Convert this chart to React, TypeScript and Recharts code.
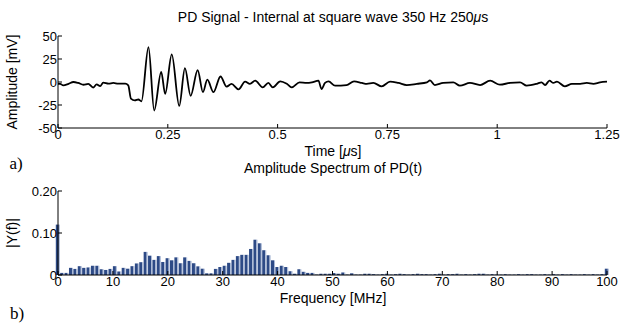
import React from "react";
import { LineChart, Line, BarChart, Bar, XAxis, YAxis } from "recharts";

// time signal (time in us, amplitude in mV)
const SIGNAL_T = [
  0, 0.005, 0.012, 0.024, 0.035, 0.046, 0.058, 0.069, 0.08, 0.088, 0.096, 0.103,
  0.115, 0.126, 0.137, 0.153, 0.16, 0.166, 0.175, 0.183, 0.19, 0.206, 0.219,
  0.235, 0.244, 0.259, 0.276, 0.289, 0.302, 0.318, 0.33, 0.34, 0.354, 0.37,
  0.384, 0.395, 0.411, 0.426, 0.437, 0.449, 0.466, 0.479, 0.489, 0.506, 0.521,
  0.532, 0.55, 0.566, 0.578, 0.593, 0.6, 0.608, 0.616, 0.631, 0.657, 0.674,
  0.692, 0.703, 0.718, 0.737, 0.756, 0.775, 0.794, 0.817, 0.84, 0.847, 0.858,
  0.877, 0.9, 0.915, 0.938, 0.961, 0.984, 1.006, 1.029, 1.052, 1.067, 1.09,
  1.101, 1.109, 1.119, 1.128, 1.136, 1.154, 1.17, 1.189, 1.204, 1.219, 1.234,
  1.25,
];
const SIGNAL_MV = [
  -2, -2, -3.7, -2, 0, -1, -3, -2, -6, -2.5, -4.5, -0.7,
  -1.8, -1, -1.8, -1.8, -3.7, -18, -20, -19, -21, 38, -31,
  11, -13, 30, -26, 15, -15, 13, -11, 2.5, -11, 6,
  -5, -2, -8, 0.4, -2, 1.4, -5.8, -1, -5.8, 0.7, -2,
  -5.8, -0.4, -1, -0.4, 1.4, -7.6, -1, 0.7, -4, -3.3, 0.7,
  -1, -2, -1, -4.7, 0.4, -1, -3.3, -2, -0.4, 1.8, -3.3,
  -1, -0.4, -4, -1, -3.3, 1.4, -2.9, -1, -0.4, -4, -2,
  -0.4, -3.3, 1.4, -1, 0.4, -4.7, -2, -2, -1, -2, -0.4,
  0.4,
];
const TIME_TICKS = [0, 0.25, 0.5, 0.75, 1, 1.25];
const MV_TICKS = [-50, -25, 0, 25, 50];

// amplitude spectrum, one bar every 0.8 MHz from 0 to 100 MHz
const FREQ_STEP = 0.8;
const SPECTRUM = [
  0.12, 0.005, 0.005, 0.017, 0.0145, 0.021, 0.017, 0.018, 0.022, 0.022,
  0.0137, 0.012, 0.0145, 0.021, 0.0084, 0.017, 0.015, 0.021, 0.0275, 0.0305,
  0.055, 0.046, 0.036, 0.045, 0.031, 0.04, 0.035, 0.042, 0.028, 0.042,
  0.0336, 0.028, 0.0206, 0.015, 0.004, 0.004, 0.0145, 0.019, 0.022, 0.029,
  0.036, 0.045, 0.048, 0.048, 0.062, 0.084, 0.0755, 0.059, 0.047, 0.035,
  0.019, 0.022, 0.019, 0.009, 0.003, 0.0137, 0.0076, 0.005, 0.005, 0.001,
  0.003, 0.003, 0.003, 0.0046, 0.003, 0.006, 0.001, 0.004, 0.001, 0.001,
  0.003, 0.003, 0.002, 0.001, 0.002, 0.003, 0.001, 0.002, 0.003, 0.002,
  0.001, 0.002, 0.003, 0.002, 0.002, 0.001, 0.002, 0.003, 0.001, 0.002,
  0.002, 0.003, 0.001, 0.002, 0.001, 0.002, 0.003, 0.003, 0.001, 0.002,
  0.001, 0.001, 0.002, 0.001, 0.001, 0.002, 0.001, 0.002, 0.002, 0.001,
  0.001, 0.002, 0.001, 0.002, 0.001, 0.002, 0.001, 0.002, 0.001, 0.001,
  0.002, 0.001, 0.002, 0.001, 0.002, 0.015,
];
const FREQ_TICKS = [0, 10, 20, 30, 40, 50, 60, 70, 80, 90, 100];
const AMP_TICKS = [0, 0.1, 0.2];

const FONT = "'Liberation Sans', Arial, Helvetica, sans-serif";
const TICK = { fill: "#000", fontSize: 13, fontFamily: FONT };

const signalData = SIGNAL_T.map((t, i) => ({ t, v: SIGNAL_MV[i] }));
const spectrumData = SPECTRUM.map((a, i) => ({ f: +(i * FREQ_STEP).toFixed(1), a }));

function Txt({ x, y, size = 14, rotate = false, serif = false, children }: any) {
  return (
    <div
      style={{
        position: "absolute",
        left: x,
        top: y,
        transform: `translate(-50%, -50%)${rotate ? " rotate(-90deg)" : ""}`,
        whiteSpace: "nowrap",
        fontFamily: serif ? "'Liberation Serif', 'Times New Roman', serif" : FONT,
        fontSize: size,
        lineHeight: 1,
        color: "#000",
      }}
    >
      {children}
    </div>
  );
}

const SpectrumBar = (props: any) => {
  const { x, y, width, height } = props;
  if (!height || height <= 0) return null;
  return (
    <g>
      <rect x={x} y={y} width={width - 1} height={height} fill="#2d4a86" />
      <rect x={x + width - 1} y={y} width={1} height={height} fill="#a9b8d6" />
    </g>
  );
};

const mu = <span style={{ fontStyle: "italic" }}>μ</span>;

export default function App() {
  return (
    <div style={{ position: "absolute", left: 0, top: 0, width: 620, height: 324, background: "#fff" }}>
      <div style={{ position: "absolute", left: 0, top: 0 }}>
        <LineChart width={620} height={160} data={signalData} margin={{ top: 36, right: 13, left: 0, bottom: 0 }}>
          <XAxis
            dataKey="t"
            type="number"
            domain={[0, 1.25]}
            ticks={TIME_TICKS}
            height={32}
            stroke="#000"
            tickSize={-4}
            tickMargin={6}
            tick={TICK}
          />
          <XAxis
            xAxisId="top"
            orientation="top"
            type="number"
            domain={[0, 1.25]}
            ticks={TIME_TICKS}
            height={0}
            stroke="#000"
            strokeWidth={1.5}
            tickSize={-4}
            tick={false}
          />
          <YAxis
            type="number"
            domain={[-50, 50]}
            ticks={MV_TICKS}
            width={58}
            stroke="#000"
            tickSize={-4}
            tickMargin={5}
            tick={TICK}
          />
          <YAxis
            yAxisId="right"
            orientation="right"
            type="number"
            domain={[-50, 50]}
            ticks={MV_TICKS}
            width={0}
            stroke="#000"
            tickSize={-4}
            tick={false}
          />
          <Line
            dataKey="v"
            type="monotone"
            stroke="#000"
            strokeWidth={1.8}
            dot={false}
            isAnimationActive={false}
          />
        </LineChart>
      </div>

      <div style={{ position: "absolute", left: 0, top: 160 }}>
        <BarChart width={620} height={145} data={spectrumData} margin={{ top: 31, right: 13, left: 0, bottom: 0 }}>
          <XAxis
            dataKey="f"
            type="number"
            domain={[0, 100]}
            ticks={FREQ_TICKS}
            height={30}
            stroke="#000"
            tickSize={-4}
            tickMargin={6}
            tick={TICK}
          />
          <XAxis
            xAxisId="top"
            orientation="top"
            type="number"
            domain={[0, 100]}
            ticks={FREQ_TICKS}
            height={0}
            stroke="#000"
            tickSize={-4}
            tick={false}
          />
          <YAxis
            type="number"
            domain={[0, 0.2]}
            ticks={AMP_TICKS}
            width={58}
            stroke="#000"
            tickSize={-4}
            tickMargin={5}
            tick={TICK}
            tickFormatter={(v: number) => (v === 0 ? "0" : v.toFixed(2))}
          />
          <YAxis
            yAxisId="right"
            orientation="right"
            type="number"
            domain={[0, 0.2]}
            ticks={AMP_TICKS}
            width={0}
            stroke="#000"
            tickSize={-4}
            tick={false}
          />
          <Bar dataKey="a" barSize={4} shape={SpectrumBar} isAnimationActive={false} />
        </BarChart>
      </div>

      <Txt x={333} y={17}>PD Signal - Internal at square wave 350 Hz 250{mu}s</Txt>
      <Txt x={12} y={82} rotate>Amplitude [mV]</Txt>
      <Txt x={333} y={151}>Time [{mu}s]</Txt>
      <Txt x={16} y={163} size={17} serif>a)</Txt>
      <Txt x={333} y={168}>Amplitude Spectrum of PD(t)</Txt>
      <Txt x={12} y={233} rotate>|Y(f)|</Txt>
      <Txt x={333} y={298}>Frequency [MHz]</Txt>
      <Txt x={17} y={313} size={17} serif>b)</Txt>
    </div>
  );
}
